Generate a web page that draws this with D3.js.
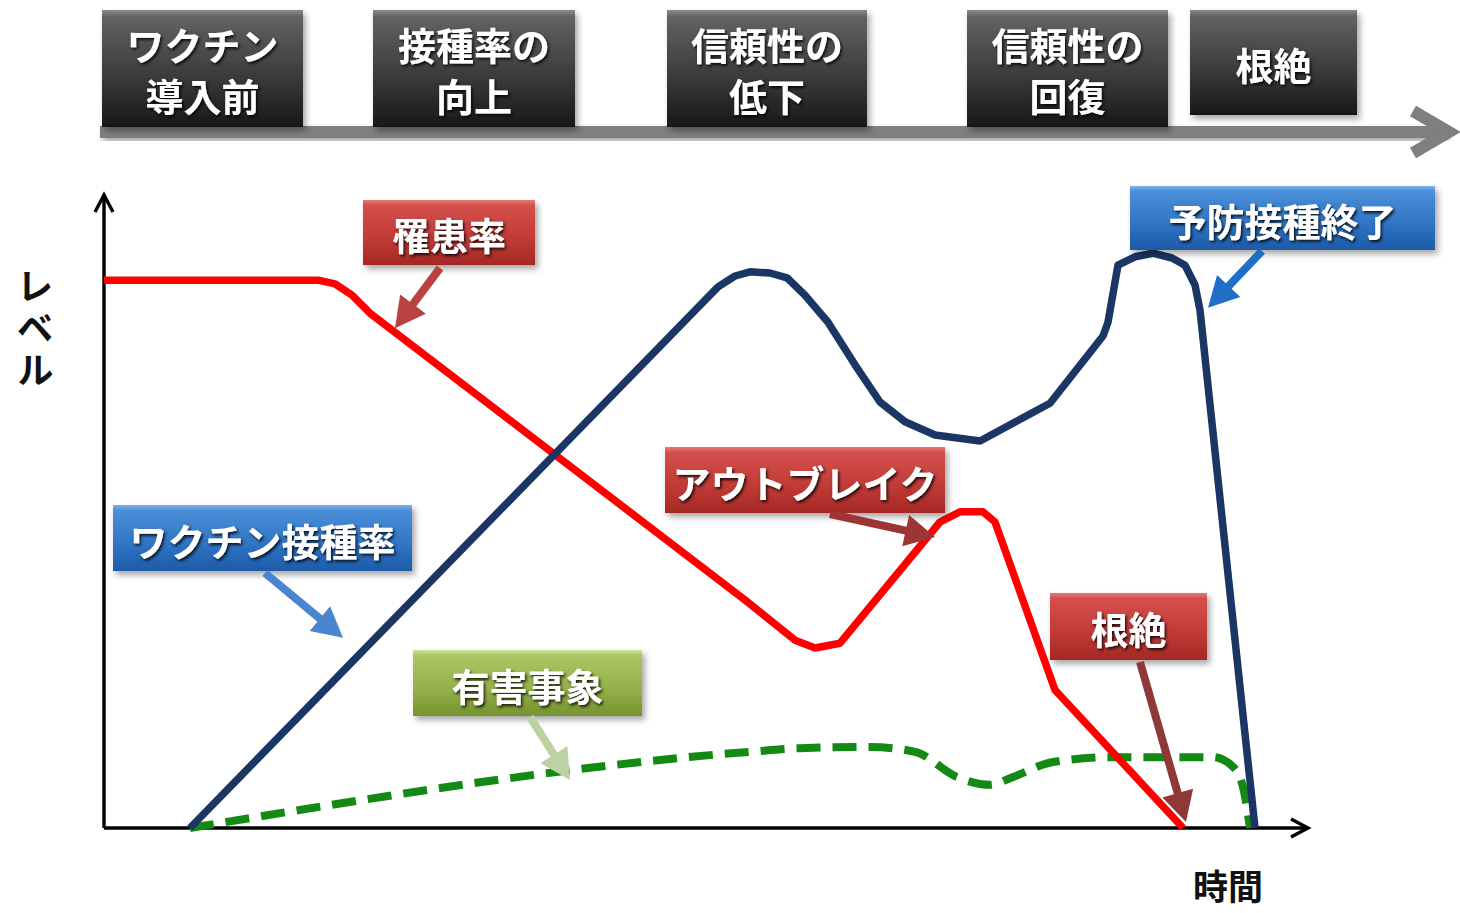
<!DOCTYPE html>
<html>
<head>
<meta charset="utf-8">
<script src="https://cdn.jsdelivr.net/npm/d3@7"></script>
<style>
  body { margin: 0; background: #ffffff; }
  svg { display: block; }
  text { font-family: "Noto Sans CJK JP", "Noto Sans", sans-serif; font-weight: 700; }
</style>
</head>
<body>
<svg id="chart" width="1460" height="913"></svg>
<script>
// ---- phases of the vaccination timeline ----
const phaseLabels = [["ワクチン", "導入前"], ["接種率の", "向上"], ["信頼性の", "低下"], ["信頼性の", "回復"], ["根絶"]];

// ---- series: time (arbitrary units) and level (0-100) ----
const incidenceTime = [0, 21.4, 23.1, 24.8, 26.6, 64.1, 69.1, 71.1, 73.6, 83.6, 85.6, 87.9, 89.1, 95.1, 107.9];
const incidence     = [91.3, 91.3, 90.7, 88.8, 85.8, 38.0, 31.3, 30.0, 30.8, 51.0, 52.7, 52.7, 51.0, 23.0, 0];

const coverageTime = [8.6, 61.4, 63.1, 64.6, 66.6, 68.3, 70.1, 72.4, 75.1, 77.6, 80.1, 83.1, 87.6, 94.6, 99.9, 100.4, 101.4, 103.1, 104.9, 106.8, 108.1, 109.1, 109.6, 115.1];
const coverage     = [0, 90.2, 92.0, 92.7, 92.5, 91.7, 88.8, 84.3, 77.2, 71.0, 67.7, 65.5, 64.5, 70.8, 82.0, 84.3, 93.8, 95.2, 95.8, 95.0, 93.8, 90.5, 86.3, 0];

const adverseTime = [8.6, 64.6, 69.6, 76.6, 81.1, 85.3, 88.6, 90.9, 94.9, 100.9, 110.9, 112.9, 113.9, 114.6];
const adverse     = [0, 12.7, 13.3, 13.5, 12.7, 8.5, 7.2, 8.5, 11.0, 11.8, 11.8, 10.2, 6.8, 0];

// ---- callout labels ----
const calloutLabels = ["罹患率", "ワクチン接種率", "アウトブレイク", "予防接種終了", "有害事象", "根絶"];
const calloutKinds  = ["red", "blue", "red", "blue", "green", "red"];
// arrow tips in data units (time, level)
const calloutTipTime  = [29.1, 23.9, 83.1, 110.4, 46.6, 108.2];
const calloutTipLevel = [83.3, 31.7, 48.5, 86.7, 8.0, 1.0];

const axisLabels = { y: "レベル", x: "時間" };

// ---------------- layout ----------------
const svg = d3.select("#chart");
const x = d3.scaleLinear().domain([0, 120]).range([104, 1304]);
const y = d3.scaleLinear().domain([0, 100]).range([828, 228]);

const defs = svg.append("defs");

function gradient(id, stops) {
  const g = defs.append("linearGradient").attr("id", id)
    .attr("x1", 0).attr("y1", 0).attr("x2", 0).attr("y2", 1);
  stops.forEach(([o, c]) => g.append("stop").attr("offset", o).attr("stop-color", c));
}
gradient("g-dark",  [["0", "#8a8a8a"], ["0.06", "#626262"], ["0.5", "#404040"], ["1", "#181818"]]);
gradient("g-red",   [["0", "#e77a76"], ["0.08", "#d4504c"], ["0.6", "#c13a36"], ["1", "#a42824"]]);
gradient("g-blue",  [["0", "#7fb2ea"], ["0.08", "#4b8fd8"], ["0.6", "#2f74c4"], ["1", "#1d5aa6"]]);
gradient("g-green", [["0", "#cfe39a"], ["0.08", "#abc764"], ["0.6", "#93b04a"], ["1", "#77932f"]]);

const boxShadow = defs.append("filter").attr("id", "f-box")
  .attr("x", "-10%").attr("y", "-10%").attr("width", "125%").attr("height", "135%");
boxShadow.append("feDropShadow").attr("dx", 3).attr("dy", 4).attr("stdDeviation", 3)
  .attr("flood-color", "#000").attr("flood-opacity", 0.35);

const textShadow = defs.append("filter").attr("id", "f-text")
  .attr("x", "-10%").attr("y", "-20%").attr("width", "125%").attr("height", "150%");
textShadow.append("feDropShadow").attr("dx", 1.5).attr("dy", 2).attr("stdDeviation", 1.6)
  .attr("flood-color", "#000").attr("flood-opacity", 0.85);

// ---------------- timeline at the top ----------------
const phaseBoxes = [[102, 201, 117], [373, 202, 117], [667, 200, 117], [967, 201, 117], [1190, 167, 105]];

const timeline = svg.append("g");
timeline.append("rect")
  .attr("x", 100).attr("y", 126).attr("width", 1345).attr("height", 12)
  .attr("fill", "#7f7f7f").attr("filter", "url(#f-box)");
timeline.append("path")
  .attr("d", "M1413,111 L1449,132 L1413,153")
  .attr("fill", "none").attr("stroke", "#7f7f7f").attr("stroke-width", 12)
  .attr("stroke-linejoin", "miter").attr("stroke-linecap", "butt");

phaseLabels.forEach((lines, i) => {
  const [bx, bw, bh] = phaseBoxes[i];
  const g = timeline.append("g");
  g.append("rect").attr("x", bx).attr("y", 10).attr("width", bw).attr("height", bh)
    .attr("fill", "url(#g-dark)").attr("filter", "url(#f-box)");
  const cy = lines.length === 1 ? [63] : [43, 94];
  lines.forEach((t, j) => {
    g.append("text").attr("x", bx + bw / 2).attr("y", cy[j])
      .attr("text-anchor", "middle").attr("dominant-baseline", "central")
      .attr("font-size", 38).attr("fill", "#ffffff").attr("filter", "url(#f-text)")
      .text(t);
  });
});

// ---------------- axes ----------------
const axes = svg.append("g").attr("stroke", "#000").attr("fill", "none").attr("stroke-width", 3.4);
axes.append("line").attr("x1", x(0)).attr("y1", y(0)).attr("x2", x(0)).attr("y2", 196);
axes.append("line").attr("x1", x(0)).attr("y1", y(0)).attr("x2", 1307).attr("y2", y(0));
axes.append("path").attr("d", `M${x(0) - 9},${212} L${x(0)},${195} L${x(0) + 9},${212}`)
  .attr("stroke-linejoin", "miter");
axes.append("path").attr("d", `M${1291},${y(0) - 9} L${1308},${y(0)} L${1291},${y(0) + 9}`)
  .attr("stroke-linejoin", "miter");

// y label, set in vertical writing
svg.append("text")
  .attr("x", 35).attr("y", 267)
  .style("writing-mode", "vertical-rl")
  .style("text-orientation", "upright")
  .style("letter-spacing", "5px")
  .attr("font-size", 37).attr("fill", "#111").text(axisLabels.y);

svg.append("text").attr("x", 1228).attr("y", 884)
  .attr("text-anchor", "middle").attr("dominant-baseline", "central")
  .attr("font-size", 35).attr("fill", "#111").text(axisLabels.x);

// ---------------- series ----------------
const lineGen = d3.line().x(d => x(d[0])).y(d => y(d[1]));

svg.append("path")
  .datum(d3.zip(adverseTime, adverse))
  .attr("d", lineGen.curve(d3.curveMonotoneX))
  .attr("fill", "none").attr("stroke", "#138a13").attr("stroke-width", 8)
  .attr("stroke-dasharray", "24 12");

svg.append("path")
  .datum(d3.zip(incidenceTime, incidence))
  .attr("d", lineGen.curve(d3.curveLinear))
  .attr("fill", "none").attr("stroke", "#ff0000").attr("stroke-width", 7.5)
  .attr("stroke-linejoin", "round");

svg.append("path")
  .datum(d3.zip(coverageTime, coverage))
  .attr("d", lineGen.curve(d3.curveLinear))
  .attr("fill", "none").attr("stroke", "#1b3564").attr("stroke-width", 7.5)
  .attr("stroke-linejoin", "round");

// ---------------- callouts ----------------
const calloutBoxes = [
  [363, 200, 172, 65], [113, 505, 299, 66], [665, 447, 280, 66],
  [1130, 186, 305, 64], [413, 650, 229, 66], [1050, 593, 157, 67]
];
const calloutTails = [[440, 268], [265, 573], [830, 514], [1262, 251], [530, 717], [1140, 662]];
const arrowColors = ["#b8423f", "#4a86cf", "#9c3534", "#1f6fc6", "#bdd2a2", "#8e3838"];
const fills = { red: "url(#g-red)", blue: "url(#g-blue)", green: "url(#g-green)" };

function arrowPath(x1, y1, x2, y2, shaft, headLen, headW) {
  const dx = x2 - x1, dy = y2 - y1, L = Math.hypot(dx, dy);
  const ux = dx / L, uy = dy / L, nx = -uy, ny = ux;
  const bx = x2 - ux * headLen, by = y2 - uy * headLen;
  const p = [
    [x1 + nx * shaft / 2, y1 + ny * shaft / 2],
    [bx + nx * shaft / 2, by + ny * shaft / 2],
    [bx + nx * headW / 2, by + ny * headW / 2],
    [x2, y2],
    [bx - nx * headW / 2, by - ny * headW / 2],
    [bx - nx * shaft / 2, by - ny * shaft / 2],
    [x1 - nx * shaft / 2, y1 - ny * shaft / 2]
  ];
  return "M" + p.map(q => q.join(",")).join("L") + "Z";
}

calloutLabels.forEach((label, i) => {
  const [bx, by, bw, bh] = calloutBoxes[i];
  const g = svg.append("g");
  g.append("rect").attr("x", bx).attr("y", by).attr("width", bw).attr("height", bh)
    .attr("fill", fills[calloutKinds[i]]).attr("filter", "url(#f-box)");
  g.append("text").attr("x", bx + bw / 2).attr("y", by + bh / 2 + 1)
    .attr("text-anchor", "middle").attr("dominant-baseline", "central")
    .attr("font-size", 38).attr("fill", "#ffffff").attr("filter", "url(#f-text)")
    .text(label);
  const [tx, ty] = calloutTails[i];
  svg.append("path")
    .attr("d", arrowPath(tx, ty, x(calloutTipTime[i]), y(calloutTipLevel[i]), 8, 30, 32))
    .attr("fill", arrowColors[i]);
});
</script>
</body>
</html>
